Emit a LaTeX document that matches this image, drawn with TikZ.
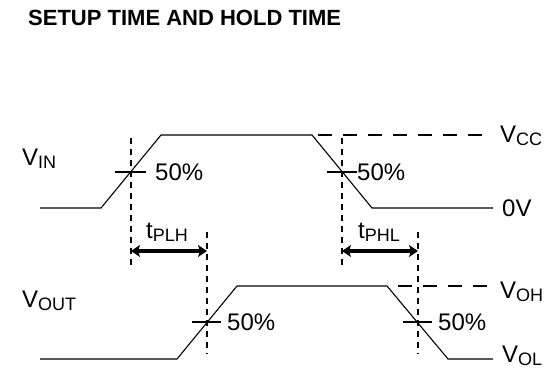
\documentclass[tikz,border=0pt]{standalone}
\usepackage{fontspec}
\setmainfont{Liberation Sans}
\usetikzlibrary{arrows.meta}
\newcommand{\vlabel}[2]{#1\raisebox{-0.25ex}{\fontsize{18}{18}\selectfont #2}}

\begin{document}
\begin{tikzpicture}[x=1pt,y=-1pt]
  \tikzstyle{every node}=[font=\fontsize{24}{28}\selectfont, inner sep=0pt, anchor=base west]
  \tikzstyle{wave} = [line width=1.1pt]
  \tikzstyle{level} = [line width=1.1pt, dash pattern=on 14pt off 11pt]
  \tikzstyle{marker} = [line width=1.1pt, dash pattern=on 6pt off 5pt]
  \tikzstyle{delay} = [line width=3.8pt, {Stealth[length=9pt,width=12pt,inset=2pt]}-{Stealth[length=9pt,width=12pt,inset=2pt]}]
  \useasboundingbox (0,0) rectangle (556,370);

  \node[font=\bfseries\fontsize{22}{26}\selectfont] (title) at (28,25) {SETUP TIME AND HOLD TIME};

  % input and output waveforms
  \draw[wave] (40,208) -- (101,208) -- (161,135) -- (312,135) -- (372,208) -- (493,208);
  \draw[wave] (40,359) -- (177,359) -- (237,286) -- (387,286) -- (448,359) -- (493,359);
  \draw[level] (318,135) -- (493,135);
  \draw[level] (398,286) -- (493,286);

  % 50% crossings
  \coordinate (m1top) at (131,138);  \coordinate (m1bot) at (131,266);
  \coordinate (m2top) at (207,232);  \coordinate (m2bot) at (207,354);
  \coordinate (m3top) at (342,138);  \coordinate (m3bot) at (342,266);
  \coordinate (m4top) at (418,232);  \coordinate (m4bot) at (418,354);
  \draw[marker] (m1top) -- (m1bot);
  \draw[marker] (m2top) -- (m2bot);
  \draw[marker] (m3top) -- (m3bot);
  \draw[marker] (m4top) -- (m4bot);
  \draw[wave] (115,172) -- (146,172);
  \draw[wave] (327,172) -- (357,172);
  \draw[wave] (192,322) -- (221,322);
  \draw[wave] (403,322) -- (432,322);

  \node (p1) at (155,180) {50\%};
  \node (p2) at (357,180) {50\%};
  \node (p3) at (227,330) {50\%};
  \node (p4) at (438,330) {50\%};

  % delays
  \coordinate (d1a) at (131,251);  \coordinate (d1b) at (207,251);
  \coordinate (d2a) at (342,251);  \coordinate (d2b) at (418,251);
  \draw[delay] (d1a) -- (d1b);
  \draw[delay] (d2a) -- (d2b);
  \node (tplh) at (146,238) {\vlabel{t}{PLH}};
  \node (tphl) at (358,238) {\vlabel{t}{PHL}};

  % signal names and levels
  \node (vin) at (22,165) {\vlabel{V}{IN}};
  \node (vout) at (22,307) {\vlabel{V}{OUT}};
  \node (vcc) at (500,142) {\vlabel{V}{CC}};
  \node (zero) at (502,216) {0V};
  \node (voh) at (500,298) {\vlabel{V}{OH}};
  \node (vol) at (502,362) {\vlabel{V}{OL}};
\end{tikzpicture}
\end{document}
